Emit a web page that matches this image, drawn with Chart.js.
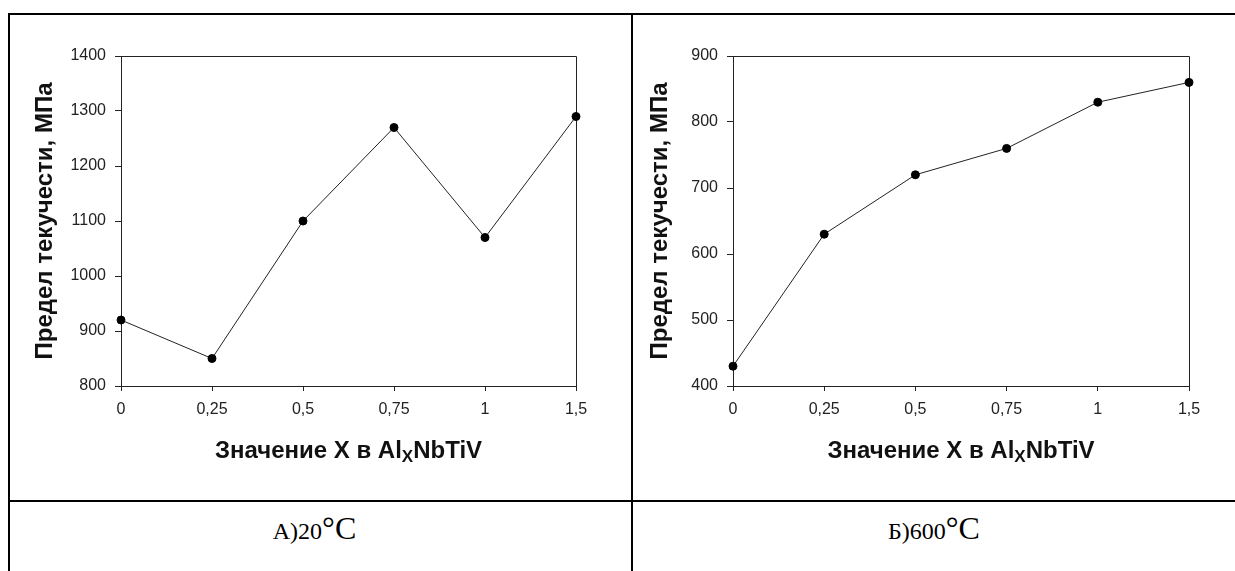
<!DOCTYPE html>
<html>
<head>
<meta charset="utf-8">
<script src="https://cdn.jsdelivr.net/npm/chart.js@4.4.1/dist/chart.umd.min.js"></script>
<style>
  body { margin: 0; background: #fff; width: 1235px; height: 571px; overflow: hidden; position: relative; }
  .line { position: absolute; background: #000; }
  canvas { position: absolute; }
  .caption { position: absolute; top: 506px; height: 44px; line-height: 44px; text-align: center;
             font-family: "Liberation Serif", "Times New Roman", serif; font-size: 24px; color: #000; }
  .caption .deg { font-size: 32px; }
</style>
</head>
<body>
<!-- рамка таблицы -->
<div class="line" style="left:8px;top:13px;width:1227px;height:2px"></div>
<div class="line" style="left:8px;top:13px;width:2px;height:558px"></div>
<div class="line" style="left:631px;top:13px;width:2px;height:558px"></div>
<div class="line" style="left:8px;top:500px;width:1227px;height:2px"></div>

<canvas id="grafico20" width="620" height="485" style="left:10px;top:15px;width:620px;height:485px"></canvas>
<canvas id="grafico600" width="600" height="485" style="left:633px;top:15px;width:600px;height:485px"></canvas>

<div class="caption" style="left:4px;width:621px">А)20<span class="deg">°C</span></div>
<div class="caption" style="left:633px;width:602px">Б)600<span class="deg">°C</span></div>

<script>
// Значения X в AlxNbTiV
const categorias = ['0', '0,25', '0,5', '0,75', '1', '1,5'];

// Предел текучести, МПа
const limite20 = [920, 850, 1100, 1270, 1070, 1290];
const limite600 = [430, 630, 720, 760, 830, 860];

// Шкалы Y
const escala20 = [800, 1400, 100];
const escala600 = [400, 900, 100];

const tituloY = 'Предел текучести, МПа';
const fonte = '"Liberation Sans", Arial, sans-serif';

// верхняя и правая линия рамки графика
const moldura = {
  id: 'moldura',
  beforeDatasetsDraw(chart) {
    const { ctx, chartArea: a } = chart;
    ctx.save();
    ctx.strokeStyle = '#222';
    ctx.lineWidth = 1;
    ctx.beginPath();
    ctx.moveTo(Math.round(a.left) + 0.5, Math.round(a.top) + 0.5);
    ctx.lineTo(Math.round(a.right) + 0.5, Math.round(a.top) + 0.5);
    ctx.lineTo(Math.round(a.right) + 0.5, Math.round(a.bottom) + 0.5);
    ctx.stroke();
    ctx.restore();
  }
};

// подпись оси X с нижним индексом
const tituloX = {
  id: 'tituloX',
  afterDraw(chart) {
    const ctx = chart.ctx;
    const a = chart.chartArea;
    const partes = [
      ['Значение X в Al', 'bold 24px ' + fonte, 0],
      ['X', 'bold 17px ' + fonte, 6],
      ['NbTiV', 'bold 24px ' + fonte, 0]
    ];
    ctx.save();
    let total = 0;
    partes.forEach(p => { ctx.font = p[1]; total += ctx.measureText(p[0]).width; });
    let x = (a.left + a.right) / 2 - total / 2;
    const y = chart.scales.x.top + 65;
    ctx.fillStyle = '#111';
    ctx.textBaseline = 'middle';
    ctx.textAlign = 'left';
    partes.forEach(p => {
      ctx.font = p[1];
      ctx.fillText(p[0], x, y + p[2]);
      x += ctx.measureText(p[0]).width;
    });
    ctx.restore();
  }
};

function criarGrafico(id, dados, escala, larguraY, direita, paddingTitulo) {
  return new Chart(document.getElementById(id), {
    type: 'line',
    data: {
      labels: categorias,
      datasets: [{
        data: dados,
        borderColor: '#222',
        borderWidth: 1,
        backgroundColor: '#000',
        pointBackgroundColor: '#000',
        pointBorderColor: '#000',
        pointRadius: 4,
        tension: 0,
        clip: false
      }]
    },
    options: {
      responsive: false,
      animation: false,
      layout: { padding: { top: 41, right: direita, left: 0, bottom: 0 } },
      plugins: { legend: { display: false }, tooltip: { enabled: false } },
      scales: {
        x: {
          offset: false,
          grid: { drawOnChartArea: false, tickLength: 5, color: '#222' },
          border: { color: '#222' },
          ticks: { color: '#222', padding: 9, maxRotation: 0, font: { family: fonte, size: 16 } },
          afterFit: s => { s.height = 114; s.paddingLeft = 0; s.paddingRight = 0; }
        },
        y: {
          min: escala[0],
          max: escala[1],
          grid: { drawOnChartArea: false, tickLength: 6, color: '#222' },
          border: { color: '#222' },
          ticks: {
            stepSize: escala[2],
            color: '#222',
            padding: 9,
            font: { family: fonte, size: 16 },
            callback: v => String(v)
          },
          title: {
            display: true,
            text: tituloY,
            color: '#111',
            padding: { top: paddingTitulo, bottom: 0 },
            font: { family: fonte, size: 24, weight: 'bold' }
          },
          afterFit: s => { s.width = larguraY; s.paddingTop = 0; s.paddingBottom = 0; }
        }
      }
    },
    plugins: [moldura, tituloX]
  });
}

const grafico20 = criarGrafico('grafico20', limite20, escala20, 111, 54, 21);
const grafico600 = criarGrafico('grafico600', limite600, escala600, 100, 44, 13);
</script>
</body>
</html>
